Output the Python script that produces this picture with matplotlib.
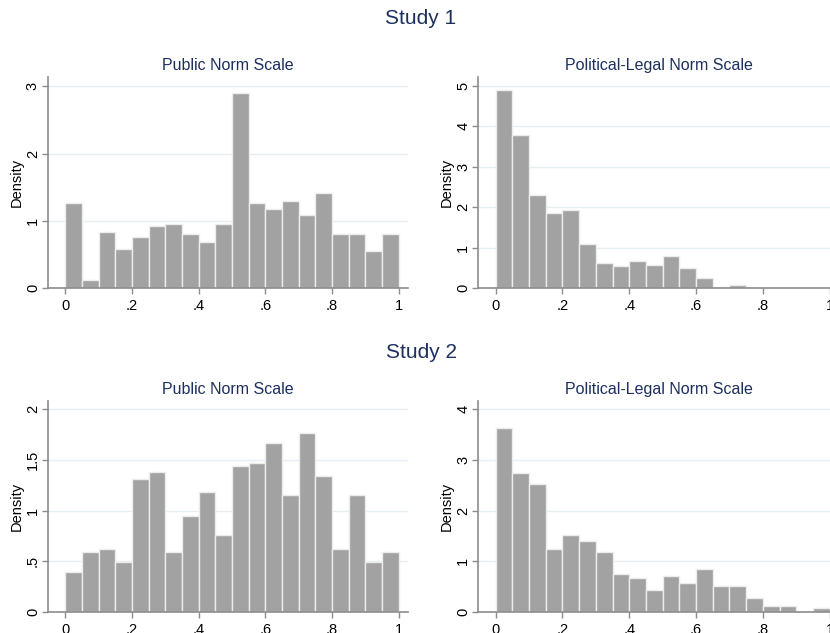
import matplotlib.pyplot as plt
import numpy as np

plt.rcParams['font.family'] = ['Liberation Sans', 'DejaVu Sans']

# density per bin, bins of width .05 from 0 to 1
s1_public = [1.26, 0.12, 0.84, 0.58, 0.76, 0.93, 0.96, 0.81, 0.68, 0.96,
             2.90, 1.26, 1.17, 1.30, 1.09, 1.42, 0.81, 0.81, 0.56, 0.81]
s1_legal = [4.90, 3.77, 2.31, 1.85, 1.94, 1.10, 0.63, 0.55, 0.68, 0.58,
            0.80, 0.51, 0.26, 0.03, 0.07, 0.0, 0.0, 0.0, 0.0, 0.0]
s2_public = [0.39, 0.59, 0.62, 0.49, 1.31, 1.38, 0.59, 0.95, 1.18, 0.76,
             1.44, 1.47, 1.67, 1.15, 1.77, 1.34, 0.62, 1.15, 0.49, 0.59]
s2_legal = [3.63, 2.75, 2.52, 1.24, 1.52, 1.40, 1.17, 0.74, 0.67, 0.42,
            0.71, 0.56, 0.84, 0.51, 0.51, 0.28, 0.11, 0.11, 0.0, 0.08]

bin_width = 0.05
bin_left = np.arange(20) * bin_width

x_ticks = [0, 0.2, 0.4, 0.6, 0.8, 1.0]
x_tick_labels = ["0", ".2", ".4", ".6", ".8", "1"]

study_titles = ["Study 1", "Study 2"]
panel_titles = ["Public Norm Scale", "Political-Legal Norm Scale"]

navy = '#1c2f5f'
bar_color = '#a2a2a2'
edge_color = '#ececec'
axis_color = '#8c8c8c'
grid_color = '#e6eff1'

W, H = 830, 633
fig = plt.figure(figsize=(W / 100, H / 100), dpi=100)

# panel boxes in pixels: left, top, right, bottom
panels = [
    (s1_public, (48, 76.7, 408, 288.3), 3.14, [0, 1, 2, 3], ["0", "1", "2", "3"]),
    (s1_legal, (478.3, 76.7, 839, 288.3), 5.22, [0, 1, 2, 3, 4, 5], ["0", "1", "2", "3", "4", "5"]),
    (s2_public, (48, 400.7, 408, 611.7), 2.085, [0, 0.5, 1, 1.5, 2], ["0", ".5", "1", "1.5", "2"]),
    (s2_legal, (478.3, 400.7, 839, 611.7), 4.17, [0, 1, 2, 3, 4], ["0", "1", "2", "3", "4"]),
]

for i, (vals, box, ytop, yt, ytl) in enumerate(panels):
    l, t, r, b = box
    ax = fig.add_axes([l / W, 1 - b / H, (r - l) / W, (b - t) / H])
    ax.bar(bin_left, vals, width=bin_width, align='edge', color=bar_color,
           edgecolor=edge_color, linewidth=1.0, zorder=2)
    ax.set_xlim(-0.052, 1.028)
    ax.set_ylim(0, ytop)
    ax.set_xticks(x_ticks)
    ax.set_xticklabels(x_tick_labels)
    ax.set_yticks(yt)
    ax.set_yticklabels(ytl, rotation=90, va='center')
    ax.grid(axis='y', color=grid_color, linewidth=1.0, zorder=0)
    ax.set_axisbelow(True)
    for side in ['top', 'right']:
        ax.spines[side].set_visible(False)
    for side in ['left', 'bottom']:
        ax.spines[side].set_color(axis_color)
        ax.spines[side].set_linewidth(1.2)
    ax.tick_params(axis='both', direction='out', length=4.3, width=1.0,
                   color=axis_color, labelsize=10.5, labelcolor='black')
    ax.tick_params(axis='x', pad=3.5)
    ax.tick_params(axis='y', pad=1.5)
    ax.set_ylabel('Density', fontsize=10.5, labelpad=1.5)
    ax.set_title(panel_titles[i % 2], fontsize=11.5, color=navy, pad=5)

fig.text(421 / W, 1 - 19 / H, study_titles[0], fontsize=15, color=navy,
         ha='center', va='center')
fig.text(421 / W, 1 - 352 / H, study_titles[1], fontsize=15, color=navy,
         ha='center', va='center')

fig.savefig('out.png', dpi=100)
